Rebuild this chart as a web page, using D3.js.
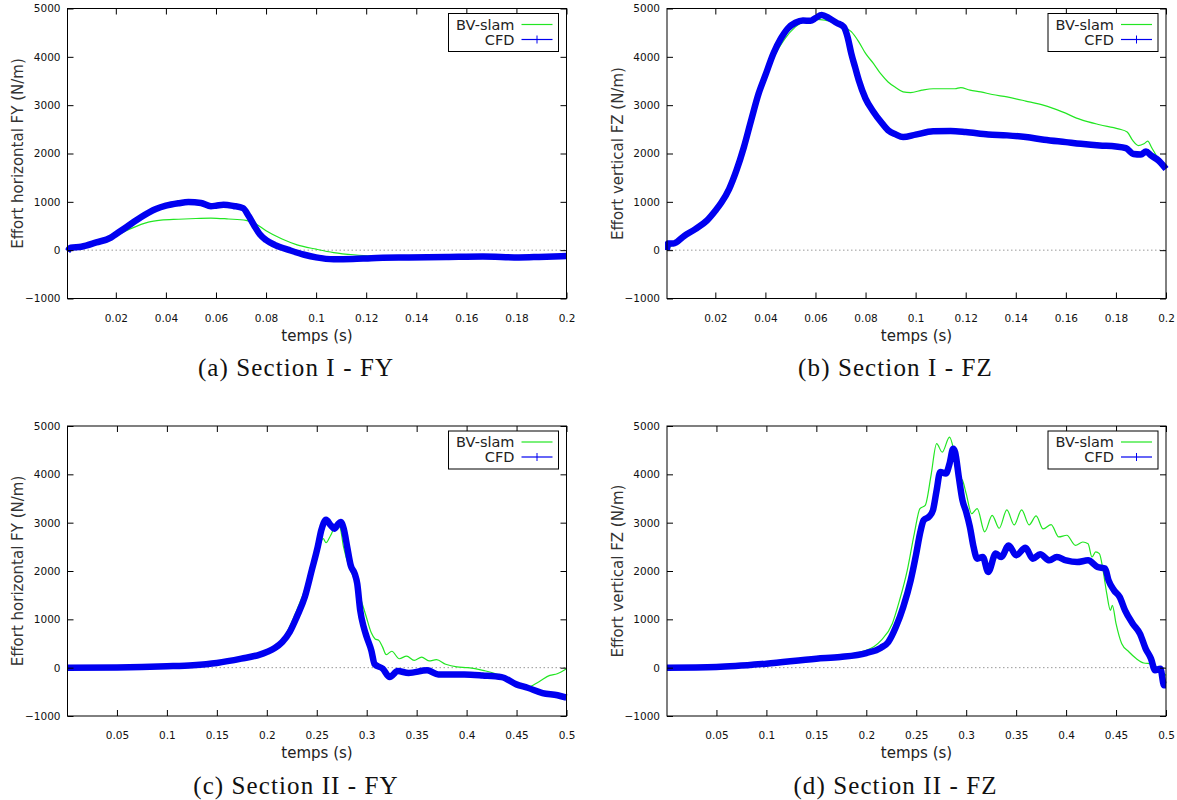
<!DOCTYPE html>
<html>
<head>
<meta charset="utf-8">
<script src="https://cdn.jsdelivr.net/npm/d3@7"></script>
<style>
  body { margin: 0; background: #fff; }
  svg { display: block; }
</style>
</head>
<body>
<svg width="1177" height="800"></svg>
<script>
(function (d3) {
  'use strict';

  // values: [temps (s), effort (N/m)]
  const cfdA = [[0.0007,-20],[0.002,50],[0.0062,70],[0.0122,160],[0.018,260],[0.02,330],[0.024,470],[0.030,680],[0.036,850],[0.040,920],[0.045,970],[0.049,995],[0.054,975],[0.058,910],[0.060,920],[0.063,940],[0.067,915],[0.0708,870],[0.073,710],[0.0753,505],[0.0775,330],[0.080,210],[0.0834,110],[0.0894,0],[0.0953,-95],[0.100,-150],[0.107,-190],[0.1146,-185],[0.122,-165],[0.137,-150],[0.152,-140],[0.1666,-130],[0.181,-150],[0.189,-140],[0.2,-120]];
  const bvA = [[0.0007,0],[0.005,60],[0.01,140],[0.0166,230],[0.02,300],[0.0255,435],[0.033,580],[0.038,620],[0.045,640],[0.052,655],[0.058,665],[0.065,645],[0.072,615],[0.076,540],[0.080,400],[0.0864,230],[0.0924,110],[0.1,20],[0.107,-50],[0.115,-95],[0.122,-115],[0.14,-120],[0.16,-115],[0.18,-120],[0.2,-95]];

  const cfdB = [[0.0007,0],[0.001,140],[0.0033,140],[0.0077,300],[0.012,435],[0.0166,610],[0.02,815],[0.0225,990],[0.0255,1265],[0.0284,1645],[0.0314,2130],[0.0343,2685],[0.0373,3240],[0.04,3620],[0.0432,4070],[0.0462,4380],[0.049,4590],[0.052,4705],[0.055,4750],[0.058,4745],[0.06,4800],[0.0625,4865],[0.0654,4800],[0.0684,4705],[0.0713,4620],[0.0728,4415],[0.0743,4070],[0.0758,3790],[0.0773,3515],[0.08,3135],[0.0832,2860],[0.0862,2650],[0.089,2480],[0.092,2395],[0.095,2340],[0.1,2390],[0.107,2460],[0.114,2465],[0.12,2445],[0.129,2395],[0.1365,2375],[0.144,2340],[0.1513,2285],[0.16,2235],[0.166,2200],[0.1735,2165],[0.18,2145],[0.184,2110],[0.187,1990],[0.19,1980],[0.192,2040],[0.194,1960],[0.197,1855],[0.2,1680]];
  const bvB = [[0.0007,0],[0.004,170],[0.0166,600],[0.025,1200],[0.0314,2100],[0.0373,3170],[0.04,3515],[0.0432,3965],[0.0476,4360],[0.052,4620],[0.0565,4750],[0.06,4775],[0.0638,4760],[0.0684,4690],[0.0713,4620],[0.0743,4520],[0.0773,4310],[0.08,4070],[0.0832,3860],[0.0862,3640],[0.089,3480],[0.092,3365],[0.095,3275],[0.098,3260],[0.1025,3310],[0.107,3340],[0.1113,3340],[0.1157,3340],[0.118,3365],[0.1217,3310],[0.126,3275],[0.1306,3220],[0.1365,3170],[0.144,3085],[0.1513,2995],[0.1586,2860],[0.166,2700],[0.1735,2595],[0.181,2510],[0.1845,2445],[0.1867,2270],[0.189,2165],[0.1912,2200],[0.1927,2255],[0.1942,2130],[0.1965,1925],[0.1987,1785],[0.2,1715]];

  const cfdC = [[0.0005,0],[0.05,5],[0.1,28],[0.126,50],[0.15,97],[0.1745,186],[0.193,270],[0.2,325],[0.208,405],[0.2155,530],[0.223,740],[0.23,1050],[0.238,1460],[0.245,2015],[0.251,2500],[0.2545,2840],[0.2593,3060],[0.264,2945],[0.2675,2875],[0.271,2960],[0.274,3015],[0.277,2875],[0.2805,2495],[0.284,2115],[0.288,1945],[0.2905,1740],[0.2935,1185],[0.297,840],[0.3,635],[0.3046,360],[0.308,70],[0.316,-20],[0.323,-195],[0.331,-70],[0.342,-110],[0.3605,-55],[0.3717,-140],[0.3977,-140],[0.416,-160],[0.435,-195],[0.4498,-345],[0.461,-415],[0.476,-525],[0.491,-570],[0.5,-620]];
  const bvC = [[0.0005,0],[0.1,25],[0.15,95],[0.2,330],[0.2155,565],[0.23,1190],[0.2415,1810],[0.251,2430],[0.2565,2670],[0.2593,2585],[0.264,2740],[0.2694,2945],[0.2731,2910],[0.2768,2500],[0.2824,2085],[0.288,1810],[0.2935,1460],[0.2991,1085],[0.3046,720],[0.3084,595],[0.3121,565],[0.3158,430],[0.3196,270],[0.3251,340],[0.3326,185],[0.34,240],[0.3475,150],[0.355,220],[0.3624,140],[0.3698,165],[0.3791,70],[0.3903,15],[0.4015,0],[0.4163,-55],[0.435,-170],[0.4498,-365],[0.461,-400],[0.4721,-295],[0.4833,-160],[0.4907,-125],[0.5,-20]];

  const cfdD = [[0.0005,0],[0.05,14],[0.1,83],[0.15,186],[0.174,220],[0.2,303],[0.2148,414],[0.222,530],[0.2296,840],[0.237,1255],[0.2444,1805],[0.25,2360],[0.2537,2770],[0.2574,3050],[0.263,3130],[0.2667,3255],[0.2704,3670],[0.274,4050],[0.2796,4015],[0.2833,4220],[0.287,4530],[0.2889,4460],[0.2926,3945],[0.2963,3460],[0.3,3220],[0.3037,2910],[0.3074,2495],[0.311,2255],[0.3166,2290],[0.322,1980],[0.3296,2360],[0.335,2290],[0.3426,2530],[0.35,2325],[0.3593,2480],[0.3667,2255],[0.374,2345],[0.3833,2220],[0.3907,2290],[0.4,2220],[0.411,2185],[0.422,2220],[0.4315,2085],[0.439,2050],[0.4425,1805],[0.448,1600],[0.4537,1460],[0.459,1185],[0.4667,910],[0.474,700],[0.4796,395],[0.485,185],[0.489,-55],[0.4944,-20],[0.498,-365],[0.5,-365]];
  const bvD = [[0.0005,0],[0.1,80],[0.15,185],[0.2,360],[0.2148,565],[0.226,910],[0.2333,1395],[0.241,2015],[0.248,2770],[0.2537,3290],[0.259,3360],[0.2648,3980],[0.2704,4635],[0.276,4460],[0.2833,4770],[0.2889,4360],[0.2926,3945],[0.2963,3875],[0.3,3600],[0.3055,3185],[0.311,3290],[0.3185,2810],[0.326,3150],[0.333,2885],[0.3407,3265],[0.348,2955],[0.3555,3265],[0.363,2955],[0.37,3140],[0.377,2870],[0.385,2960],[0.3926,2705],[0.4007,2740],[0.4093,2530],[0.4167,2600],[0.422,2565],[0.4259,2290],[0.4296,2395],[0.4333,2360],[0.437,2015],[0.4407,1530],[0.4444,1185],[0.4463,1290],[0.45,910],[0.4556,500],[0.463,325],[0.4704,185],[0.4778,97],[0.4852,83],[0.4907,14],[0.4963,-90],[0.5,-160]];

  const yTicks = [-1000, 0, 1000, 2000, 3000, 4000, 5000];
  const xTicksI = [0.02, 0.04, 0.06, 0.08, 0.1, 0.12, 0.14, 0.16, 0.18, 0.2];
  const xTicksII = [0.05, 0.1, 0.15, 0.2, 0.25, 0.3, 0.35, 0.4, 0.45, 0.5];
  const seriesNames = ['BV-slam', 'CFD'];
  const captions = ['(a) Section I - FY', '(b) Section I - FZ', '(c) Section II - FY', '(d) Section II - FZ'];
  const yLabels = ['Effort horizontal FY (N/m)', 'Effort vertical FZ (N/m)', 'Effort horizontal FY (N/m)', 'Effort vertical FZ (N/m)'];
  const xLabel = 'temps (s)';

  const svg = d3.select('svg');
  const green = '#22e622', blue = '#0000f0';

  const panels = [
    { left: 67.5, top: 8.5, xmin: 0.0007, xmax: 0.2, ticks: xTicksI, bv: bvA, cfd: cfdA },
    { left: 667, top: 8.5, xmin: 0.0007, xmax: 0.2, ticks: xTicksI, bv: bvB, cfd: cfdB },
    { left: 67.5, top: 426, xmin: 0.0005, xmax: 0.5, ticks: xTicksII, bv: bvC, cfd: cfdC },
    { left: 667, top: 426, xmin: 0.0005, xmax: 0.5, ticks: xTicksII, bv: bvD, cfd: cfdD }
  ];
  const pw = 499, ph = 290;

  panels.forEach((p, i) => drawPanel(p, i));

  function drawPanel(p, i) {
    const g = svg.append('g').attr('transform', `translate(${p.left},${p.top})`);
    const x = d3.scaleLinear().domain([p.xmin, p.xmax]).range([0, pw]);
    const y = d3.scaleLinear().domain([-1000, 5000]).range([ph, 0]);

    // zero line
    g.append('line')
      .attr('x1', 0).attr('x2', pw)
      .attr('y1', y(0)).attr('y2', y(0))
      .attr('stroke', '#999').attr('stroke-dasharray', '1.5,2.5');

    const clip = 'clip' + i;
    g.append('clipPath').attr('id', clip)
      .append('rect').attr('x', -2).attr('y', -2).attr('width', pw + 6).attr('height', ph + 4);

    const line = d3.line()
      .x(d => x(d[0]))
      .y(d => y(d[1]))
      .curve(d3.curveMonotoneX);

    const lines = g.append('g').attr('clip-path', `url(#${clip})`);
    lines.append('path').datum(p.bv)
      .attr('d', line).attr('fill', 'none')
      .attr('stroke', green).attr('stroke-width', 1.2);
    lines.append('path').datum(p.cfd)
      .attr('d', line).attr('fill', 'none')
      .attr('stroke', blue).attr('stroke-width', 6.5)
      .attr('stroke-linejoin', 'round').attr('stroke-linecap', 'butt');

    // axes (gnuplot style: ticks inside, mirrored)
    const fontAxis = '"DejaVu Sans", Verdana, sans-serif';
    const left = g.append('g').call(d3.axisLeft(y).tickValues(yTicks).tickSize(-6).tickPadding(12).tickFormat(d3.format('d')));
    const right = g.append('g').attr('transform', `translate(${pw},0)`)
      .call(d3.axisRight(y).tickValues(yTicks).tickSize(-6).tickFormat(''));
    const bottom = g.append('g').attr('transform', `translate(0,${ph})`)
      .call(d3.axisBottom(x).tickValues(p.ticks).tickSize(-6).tickPadding(16).tickFormat(d3.format('~g')));
    const top = g.append('g')
      .call(d3.axisTop(x).tickValues(p.ticks).tickSize(-6).tickFormat(''));
    [left, right, bottom, top].forEach(a => {
      a.select('.domain').remove();
      a.selectAll('line').attr('stroke', '#000');
      a.selectAll('text').attr('font-family', fontAxis).attr('font-size', 10.5).attr('fill', '#111');
    });
    left.selectAll('text').attr('dx', 5);

    g.append('rect')
      .attr('width', pw).attr('height', ph)
      .attr('fill', 'none').attr('stroke', '#000').attr('stroke-width', 1);

    // legend
    const lg = g.append('g').attr('transform', `translate(${pw - 118},5)`);
    lg.append('rect').attr('width', 110).attr('height', 38)
      .attr('fill', '#fff').attr('stroke', '#000').attr('stroke-width', 1);
    seriesNames.forEach((name, k) => {
      const yy = 11 + k * 15;
      lg.append('text').attr('x', 66).attr('y', yy).attr('dy', '0.36em')
        .attr('text-anchor', 'end').attr('font-family', fontAxis).attr('font-size', 14.5)
        .attr('fill', '#222').text(name);
      lg.append('line').attr('x1', 73).attr('x2', 104).attr('y1', yy).attr('y2', yy)
        .attr('stroke', k === 0 ? green : blue).attr('stroke-width', 1.2);
      if (k === 1) {
        lg.append('line').attr('x1', 88.5).attr('x2', 88.5).attr('y1', yy - 4).attr('y2', yy + 4)
          .attr('stroke', blue).attr('stroke-width', 1);
      }
    });

    // labels
    g.append('text')
      .attr('transform', `translate(-49.5,${ph / 2}) rotate(-90)`)
      .attr('text-anchor', 'middle').attr('dy', '0.35em')
      .attr('font-family', fontAxis).attr('font-size', 15).attr('fill', '#333')
      .text(yLabels[i]);
    g.append('text')
      .attr('x', pw / 2).attr('y', ph + 37).attr('dy', '0.35em')
      .attr('text-anchor', 'middle')
      .attr('font-family', fontAxis).attr('font-size', 15).attr('fill', '#222')
      .text(xLabel);
    g.append('text')
      .attr('x', pw / 2 - 21).attr('y', ph + 69).attr('dy', '0.35em')
      .attr('text-anchor', 'middle')
      .attr('font-family', '"Liberation Serif", "DejaVu Serif", serif').attr('font-size', 25)
      .attr('letter-spacing', 1.1).attr('fill', '#111')
      .text(captions[i]);
  }

}(d3));
</script>
</body>
</html>
